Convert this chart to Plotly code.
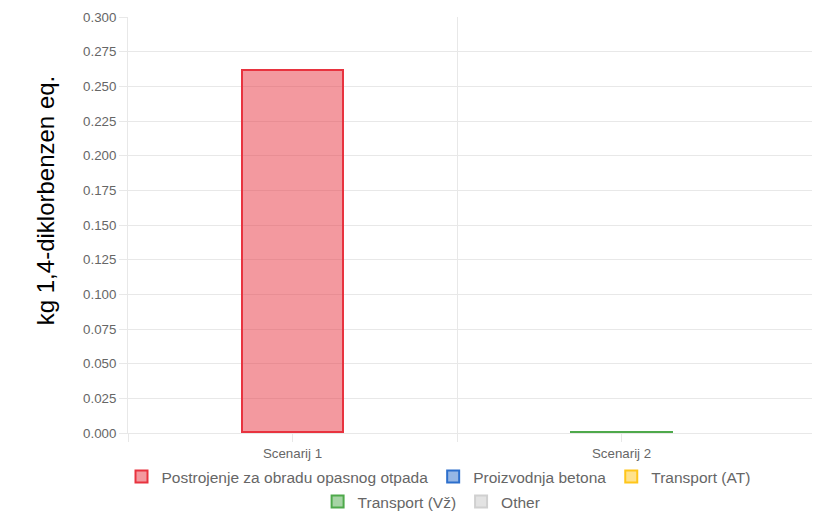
import plotly.graph_objects as go

SCENARIOS = ["Scenarij 1", "Scenarij 2"]
SERIES = [
    "Postrojenje za obradu opasnog otpada",
    "Proizvodnja betona",
    "Transport (AT)",
    "Transport (Vž)",
    "Other",
]
# stacking order (bottom first)
STACK_ORDER = [
    "Proizvodnja betona",
    "Transport (AT)",
    "Transport (Vž)",
    "Other",
    "Postrojenje za obradu opasnog otpada",
]
VALUES = {
    "Postrojenje za obradu opasnog otpada": [0.261, 0.0],
    "Proizvodnja betona": [0.0, 0.0],
    "Transport (AT)": [0.0, 0.0],
    "Transport (Vž)": [0.0006, 0.0007],
    "Other": [0.0, 0.0],
}
FILL = {
    "Postrojenje za obradu opasnog otpada": "rgba(232,51,63,0.5)",
    "Proizvodnja betona": "rgba(45,111,204,0.5)",
    "Transport (AT)": "rgba(255,198,26,0.5)",
    "Transport (Vž)": "rgba(78,169,75,0.5)",
    "Other": "rgba(200,200,200,0.5)",
}
LINE = {
    "Postrojenje za obradu opasnog otpada": "#e8333f",
    "Proizvodnja betona": "#2d6fcc",
    "Transport (AT)": "#ffc61a",
    "Transport (Vž)": "#4ea94b",
    "Other": "#d0d0d0",
}
Y_TICKS = [i * 0.025 for i in range(13)]

fig = go.Figure()
x = list(range(len(SCENARIOS)))
for name in STACK_ORDER:
    idx = SERIES.index(name)
    # zero segments are not drawn (no border line left behind)
    y = [v if v else None for v in VALUES[name]]
    fig.add_trace(go.Bar(
        x=x, y=y, name=name, width=0.307,
        legend="legend" if idx < 3 else "legend2",
        legendrank=idx + 1,
        marker=dict(color=FILL[name], line=dict(color=LINE[name], width=2)),
    ))

grid = "#e8e8e8"
legend_style = dict(
    orientation="h", xanchor="center", yanchor="top",
    font=dict(size=15.5, color="#666666"), itemwidth=30,
    traceorder="normal", bgcolor="rgba(0,0,0,0)",
)
# the page body adds an 8px offset, so the figure is sized 8px smaller
fig.update_layout(
    barmode="stack",
    width=812, height=509,
    plot_bgcolor="white", paper_bgcolor="white",
    font=dict(family="Arial", size=13.3, color="#666666"),
    margin=dict(l=120, r=2, t=9, b=84, autoexpand=False),
    showlegend=True,
    legend=dict(x=0.45, y=-0.065, **legend_style),
    legend2=dict(x=0.44, y=-0.125, **legend_style),
    bargap=0,
    annotations=[dict(
        text="kg 1,4-diklorbenzen eq.", textangle=-90,
        xref="paper", yref="paper", x=-0.12, y=0.56,
        xanchor="center", yanchor="middle", showarrow=False,
        font=dict(size=24, color="#000000"),
    )],
)
fig.update_xaxes(
    range=[-0.5, 1.597],
    tickvals=x, ticktext=SCENARIOS,
    showgrid=False, zeroline=False, automargin=False,
    showline=True, linecolor=grid, linewidth=1,
    ticks="outside", ticklen=8, tickcolor=grid,
    minor=dict(tickvals=[-0.5, 0.5], showgrid=True, gridcolor=grid, ticks="outside", ticklen=8, tickcolor=grid),
)
fig.update_yaxes(
    range=[0, 0.3], tickvals=Y_TICKS, tickformat=".3f",
    showgrid=True, gridcolor=grid, zeroline=False, automargin=False,
    showline=True, linecolor=grid,
    ticks="outside", ticklen=8, tickcolor=grid,
)

fig.write_html("out.html")
